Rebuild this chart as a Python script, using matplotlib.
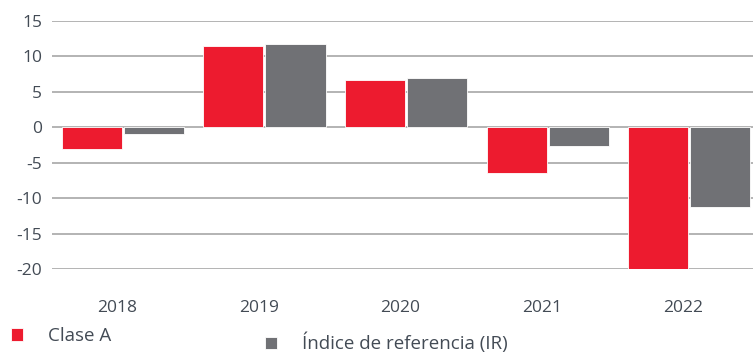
import numpy as np
import matplotlib.pyplot as plt

plt.rcParams['font.family'] = ['Open Sans', 'DejaVu Sans']

# Rentabilidad anual (%)
years = ['2018', '2019', '2020', '2021', '2022']
clase_a = [-3.0, 11.4, 6.6, -6.4, -20.0]
indice_ir = [-1.0, 11.7, 6.9, -2.7, -11.2]
series_labels = ['Clase A', 'Índice de referencia (IR)']
yticks = [15, 10, 5, 0, -5, -10, -15, -20]

red = '#ed1b2f'
grey = '#707175'
text_col = '#434b55'

fig = plt.figure(figsize=(7.53, 3.52), dpi=100)
ax = fig.add_axes([0.069, 0.235, 0.931, 0.706])

x = np.arange(len(years))
w = 0.425
b1 = ax.bar(x - 0.219, clase_a, w, color=red, edgecolor='white', linewidth=0.6, zorder=3)
b2 = ax.bar(x + 0.219, indice_ir, w, color=grey, edgecolor='white', linewidth=0.6, zorder=3)

ax.set_xlim(-0.5, 4.45)
ax.set_ylim(-20, 15)
ax.set_yticks(yticks)
ax.set_yticklabels([str(v) for v in yticks])
ax.set_xticks(x - 0.04)
ax.set_xticklabels(years)
ax.grid(axis='y', color='#b3b3b3', linewidth=1.4, zorder=0)
ax.tick_params(axis='both', length=0, colors=text_col, labelsize=12.5)
ax.tick_params(axis='y', pad=7)
ax.tick_params(axis='x', pad=22)
for s in ax.spines.values():
    s.set_visible(False)

# leyenda en dos bloques separados
leg_kw = dict(loc='center left', frameon=False, borderpad=0, borderaxespad=0,
              handlelength=0.62, handleheight=0.62, handletextpad=1.33,
              fontsize=13.5, labelcolor=text_col)
leg1 = fig.legend([b1], [series_labels[0]], bbox_to_anchor=(0.0146, 0.045), **leg_kw)
leg2 = fig.legend([b2], [series_labels[1]], bbox_to_anchor=(0.352, 0.025), **leg_kw)

fig.savefig('out.png', dpi=100)
